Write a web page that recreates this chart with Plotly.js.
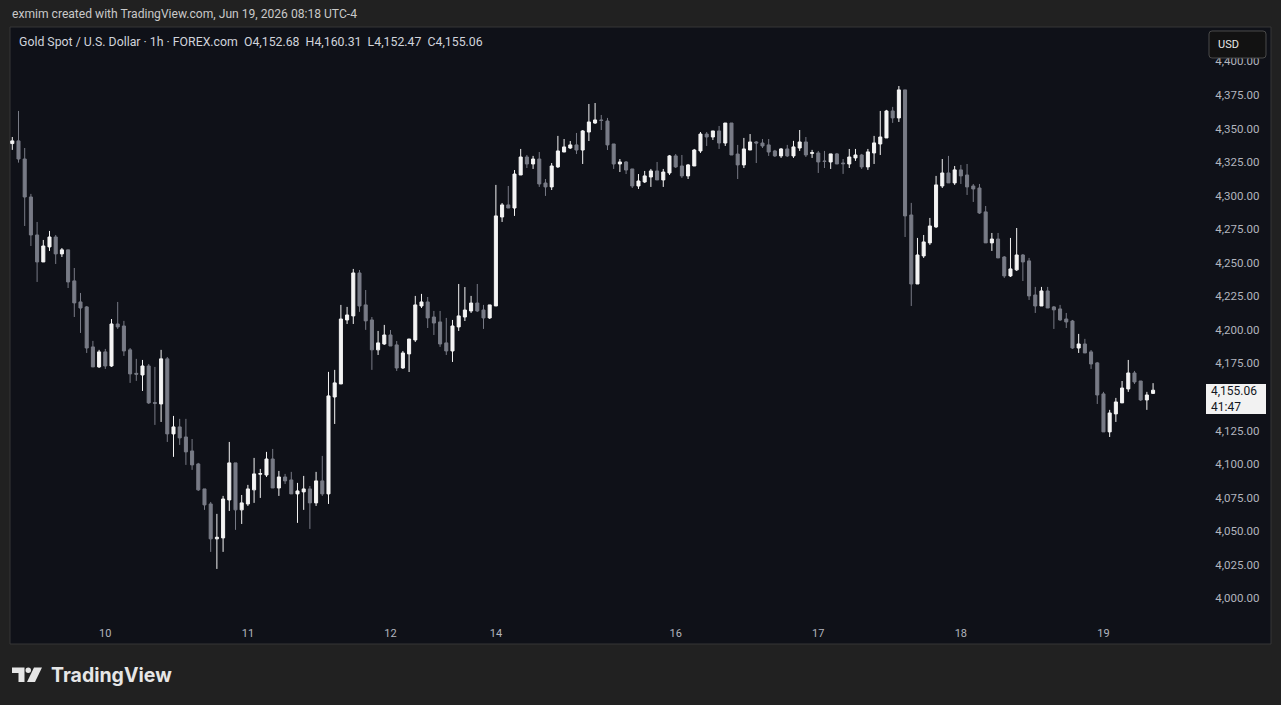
<!DOCTYPE html>
<html>
<head>
<meta charset="utf-8">
<script src="https://cdn.plot.ly/plotly-3.0.1.min.js"></script>
<style>
  html, body { margin: 0; padding: 0; background: #212121; overflow: hidden; }
  #chart { width: 1281px; height: 705px; }
</style>
</head>
<body>
<div id="chart"></div>
<script>
// ---------- DATA ----------
// Session structure (hourly bars, 17:00 maintenance break, weekend gap)
const sessionDays = ['Jun 9', 'Jun 10', 'Jun 11', 'Jun 12', 'Jun 14', 'Jun 15', 'Jun 16', 'Jun 17', 'Jun 18', 'Jun 19'];
const sessionFirstHour = [8, 0, 0, 0, 18, 0, 0, 0, 0, 0];
const sessionLastHour  = [23, 23, 23, 16, 23, 23, 23, 23, 23, 8];

const opens = [
4338.8,4340.8,4327.3,4299.0,4270.7,4250.6,4261.8,4269.2,4256.6,4259.6,
4236.5,4220.8,4217.1,4187.3,4172.4,4183.6,4173.1,4204.4,4202.9,4185.1,
4167.6,4166.4,4173.1,4145.8,4144.8,4178.4,4122.5,4127.7,4120.2,4109.8,
4100.1,4081.5,4070.3,4044.3,4045.0,4073.3,4100.9,4065.9,4070.3,4080.8,
4092.5,4091.9,4103.8,4082.2,4090.4,4088.2,4077.8,4079.3,4081.5,4071.1,
4087.5,4077.8,4150.0,4159.7,4207.4,4210.4,4242.4,4218.6,4207.4,4185.1,
4189.5,4196.2,4188.8,4171.6,4182.1,4192.5,4217.8,4220.8,4209.6,4205.9,
4190.3,4184.3,4202.2,4209.6,4214.1,4220.0,4214.8,4208.9,4217.8,4284.1,
4293.1,4290.8,4315.4,4328.8,4323.6,4327.3,4309.4,4306.5,4321.4,4332.5,
4335.5,4337.8,4334.0,4347.4,4354.1,4356.4,4355.6,4338.5,4323.6,4325.1,
4319.9,4307.2,4310.2,4313.9,4318.4,4311.7,4316.9,4329.6,4322.1,4314.7,
4322.1,4333.3,4345.9,4343.7,4348.2,4339.2,4354.1,4331.0,4322.9,4334.0,
4340.0,4339.2,4337.8,4333.3,4329.6,4334.8,4329.6,4335.5,4340.0,4331.5,
4331.8,4325.8,4325.1,4331.1,4324.3,4323.6,4328.1,4330.3,4321.4,4331.8,
4338.5,4343.0,4363.1,4357.9,4378.8,4285.6,4234.2,4255.1,4264.8,4276.7,
4307.2,4316.9,4309.5,4319.2,4315.4,4307.2,4305.7,4287.9,4264.8,4267.7,
4254.3,4240.2,4244.7,4255.8,4251.4,4226.0,4217.8,4229.0,4217.1,4215.6,
4208.1,4206.6,4186.5,4189.5,4183.6,4175.4,4152.3,4124.0,4137.4,4145.6,
4156.0,4167.9,4161.9,4147.8,4152.68
];
const highs = [
4343.7,4363.1,4335.5,4301.3,4280.4,4267.0,4273.7,4270.7,4261.0,4259.6,
4246.1,4227.5,4217.8,4191.8,4185.1,4185.8,4208.1,4220.8,4206.7,4186.5,
4178.4,4177.6,4174.6,4172.4,4185.1,4179.8,4135.9,4133.7,4133.7,4118.7,
4100.9,4081.5,4071.8,4062.9,4076.3,4116.5,4100.9,4077.0,4084.5,4104.6,
4096.4,4109.1,4111.3,4094.9,4092.7,4094.2,4086.0,4091.2,4083.7,4094.2,
4106.1,4168.7,4170.2,4218.6,4217.1,4245.4,4244.6,4229.7,4209.6,4199.2,
4203.7,4199.9,4191.7,4184.3,4193.2,4225.3,4226.8,4224.5,4214.1,4214.1,
4208.9,4207.4,4234.2,4231.9,4225.3,4234.2,4218.6,4218.6,4308.0,4294.5,
4307.2,4319.1,4334.8,4330.3,4329.6,4332.5,4312.4,4324.3,4344.5,4342.2,
4340.7,4346.7,4348.9,4368.3,4369.0,4360.1,4357.9,4338.5,4327.3,4325.8,
4319.9,4316.1,4318.4,4319.9,4325.1,4319.9,4330.3,4331.0,4330.3,4323.6,
4334.8,4347.4,4347.4,4348.2,4351.9,4354.1,4354.1,4337.8,4343.0,4345.9,
4340.7,4342.2,4342.2,4334.1,4335.5,4337.8,4340.8,4348.9,4343.7,4334.1,
4333.3,4333.3,4331.1,4331.8,4327.3,4334.8,4334.8,4331.1,4334.8,4344.5,
4363.1,4363.9,4366.1,4381.7,4378.8,4294.6,4268.5,4270.7,4283.4,4314.7,
4327.3,4329.6,4322.1,4322.9,4323.6,4308.7,4308.7,4292.3,4272.2,4272.2,
4255.0,4268.5,4275.9,4256.5,4253.6,4232.0,4232.0,4232.0,4217.8,4218.6,
4212.6,4207.4,4197.0,4193.3,4185.0,4176.1,4153.8,4140.4,4149.3,4161.9,
4177.6,4169.4,4161.9,4153.8,4160.31
];
const lows = [
4334.1,4324.6,4277.4,4262.5,4235.7,4250.6,4258.8,4249.1,4254.3,4231.2,
4209.6,4197.7,4182.8,4172.4,4171.6,4170.9,4172.4,4200.7,4180.6,4160.5,
4162.0,4154.5,4144.8,4129.2,4131.4,4116.5,4105.4,4114.3,4099.4,4095.7,
4080.0,4065.9,4034.6,4021.9,4034.6,4065.1,4051.0,4055.4,4068.8,4071.1,
4074.8,4090.4,4082.2,4076.3,4085.2,4077.8,4056.2,4065.9,4051.7,4068.8,
4076.3,4070.3,4129.9,4159.7,4204.4,4204.4,4213.4,4200.0,4170.2,4181.3,
4188.8,4188.0,4169.4,4170.9,4168.6,4191.0,4216.3,4201.4,4196.2,4187.3,
4181.3,4176.1,4199.2,4206.6,4212.6,4213.3,4200.7,4208.1,4217.8,4280.4,
4290.8,4284.9,4315.4,4320.6,4319.9,4306.5,4299.8,4304.2,4320.6,4332.5,
4334.8,4331.0,4323.6,4340.7,4353.4,4348.9,4334.0,4319.9,4317.6,4316.1,
4305.7,4305.0,4309.4,4306.5,4311.7,4306.5,4315.4,4320.6,4313.2,4312.4,
4322.1,4331.8,4337.0,4341.5,4334.8,4337.0,4330.3,4312.4,4320.6,4334.0,
4324.3,4335.5,4329.6,4328.8,4328.1,4328.8,4328.1,4333.3,4328.8,4328.1,
4316.9,4320.6,4319.9,4323.6,4316.2,4320.6,4325.9,4319.9,4319.2,4323.6,
4330.3,4343.0,4354.2,4354.9,4269.2,4217.8,4234.2,4253.6,4263.3,4275.9,
4305.7,4309.5,4308.0,4308.7,4300.5,4295.3,4286.4,4264.8,4258.8,4253.6,
4238.7,4239.4,4243.9,4236.4,4222.3,4212.6,4217.8,4216.3,4200.7,4206.7,
4201.4,4185.8,4182.8,4182.8,4170.9,4144.8,4124.0,4120.2,4131.4,4145.6,
4153.8,4159.7,4147.0,4140.4,4152.47
];
const closes = [
4340.8,4327.3,4299.0,4270.7,4250.6,4262.5,4269.2,4256.6,4259.6,4235.7,
4220.1,4216.3,4186.5,4172.4,4183.6,4173.1,4204.4,4202.2,4184.3,4167.2,
4167.0,4173.1,4145.6,4145.3,4178.4,4122.5,4127.7,4119.5,4109.1,4099.4,
4080.8,4069.6,4044.3,4045.5,4074.0,4100.9,4065.9,4071.1,4081.5,4092.7,
4092.9,4103.8,4082.2,4090.4,4087.5,4077.8,4080.0,4081.5,4071.1,4087.5,
4077.8,4150.8,4160.5,4208.1,4211.1,4242.4,4217.8,4206.7,4185.1,4190.3,
4196.2,4188.0,4171.6,4182.8,4193.2,4218.6,4220.8,4208.9,4205.1,4189.5,
4184.3,4202.9,4210.4,4214.8,4220.0,4214.1,4208.9,4218.6,4284.9,4293.1,
4290.8,4316.1,4328.8,4323.6,4327.3,4308.7,4306.5,4322.1,4333.3,4336.3,
4337.8,4334.0,4348.2,4354.9,4356.4,4356.0,4337.8,4323.6,4325.1,4319.1,
4307.2,4310.9,4314.7,4318.4,4311.7,4317.6,4329.6,4321.4,4314.7,4322.9,
4334.0,4345.9,4343.7,4348.2,4339.2,4354.1,4330.3,4322.9,4334.8,4340.0,
4339.2,4337.0,4332.5,4329.6,4334.8,4329.6,4336.3,4340.0,4330.3,4332.0,
4325.1,4325.5,4331.1,4323.6,4323.8,4328.8,4330.3,4321.4,4332.6,4339.3,
4343.7,4363.1,4357.9,4378.8,4284.9,4234.2,4255.8,4265.5,4277.4,4308.0,
4316.9,4309.5,4319.2,4314.7,4306.5,4305.0,4287.1,4264.8,4267.7,4253.6,
4240.2,4245.4,4255.8,4250.6,4225.3,4217.8,4229.0,4216.3,4214.9,4207.4,
4205.9,4186.5,4189.5,4182.8,4174.6,4151.5,4124.0,4138.1,4146.3,4156.7,
4167.9,4161.2,4147.8,4151.5,4155.06
];

// 4,150.00 is hidden behind the last-price label in the reference, so it is not listed
const priceTicks = [4000,4025,4050,4075,4100,4125,4175,4200,4225,4250,4275,4300,4325,4350,4375,4400];
const dayTickTimes = ['Jun 10 00:00','Jun 11 00:00','Jun 12 00:00','Jun 14 18:00','Jun 16 00:00','Jun 17 00:00','Jun 18 00:00','Jun 19 00:00'];
const dayTickLabels = ['10','11','12','14','16','17','18','19'];

const headerText = 'exmim created with TradingView.com, Jun 19, 2026 08:18 UTC-4';
const legendText = 'Gold Spot / U.S. Dollar · 1h · FOREX.com&nbsp;&nbsp;O4,152.68&nbsp;&nbsp;H4,160.31&nbsp;&nbsp;L4,152.47&nbsp;&nbsp;C4,155.06';
const lastPriceText = '4,155.06';
const countdownText = '41:47';

// ---------- build categories ----------
const times = [];
sessionDays.forEach((d, i) => {
  for (let h = sessionFirstHour[i]; h <= sessionLastHour[i]; h++) {
    if (h === 17) continue;
    times.push(d + ' ' + String(h).padStart(2, '0') + ':00');
  }
});

// ---------- layout geometry ----------
const W = 1281, H = 705;
const M = { l: 10, r: 81, t: 28, b: 95 };
const PW = W - M.l - M.r, PH = H - M.t - M.b;
const px = x => (x - M.l) / PW;
const py = y => (H - M.b - y) / PH;
const pt = (x, y) => px(x).toFixed(5) + ',' + py(y).toFixed(5);

const UP = '#f4f4f4', DOWN = '#787b86';
const PANEL = '#0f1118';
const AXIS_TXT = '#b2b5be';
const FONT = 'Roboto, "Liberation Sans", sans-serif';

const trace = {
  type: 'candlestick',
  x: times, open: opens, high: highs, low: lows, close: closes,
  increasing: { line: { color: UP, width: 1 }, fillcolor: UP },
  decreasing: { line: { color: DOWN, width: 1 }, fillcolor: DOWN },
  whiskerwidth: 0,
  hoverinfo: 'skip'
};

const shapes = [
  // dark chart panel
  { type: 'rect', xref: 'paper', yref: 'paper', layer: 'below',
    x0: px(10), x1: px(1271), y0: py(644), y1: py(27),
    fillcolor: PANEL, line: { color: '#363636', width: 1 } },
  // USD box
  { type: 'path', xref: 'paper', yref: 'paper', layer: 'above',
    path: 'M' + pt(1212, 31) + ' L' + pt(1263, 31) + ' Q' + pt(1266, 31) + ' ' + pt(1266, 34) +
          ' L' + pt(1266, 55) + ' Q' + pt(1266, 58) + ' ' + pt(1263, 58) +
          ' L' + pt(1212, 58) + ' Q' + pt(1209, 58) + ' ' + pt(1209, 55) +
          ' L' + pt(1209, 34) + ' Q' + pt(1209, 31) + ' ' + pt(1212, 31) + ' Z',
    fillcolor: '#121212', line: { color: '#4a4a4a', width: 1 } },
  // last price label box
  { type: 'rect', xref: 'paper', yref: 'paper', layer: 'above',
    x0: px(1206), x1: px(1266), y0: py(414), y1: py(384),
    fillcolor: '#f2f2f2', line: { width: 0 } },
  // TradingView logo: T part
  { type: 'path', xref: 'paper', yref: 'paper', layer: 'above',
    path: 'M' + pt(12, 667.5) + ' L' + pt(24.5, 667.5) + ' L' + pt(24.5, 682) + ' L' + pt(18.5, 682) +
          ' L' + pt(18.5, 673) + ' L' + pt(12, 673) + ' Z',
    fillcolor: '#e6e6e6', line: { width: 0 } },
  // logo dot
  { type: 'circle', xref: 'paper', yref: 'paper', layer: 'above',
    x0: px(25.5), x1: px(31), y0: py(673), y1: py(667.5),
    fillcolor: '#e6e6e6', line: { width: 0 } },
  // logo slash
  { type: 'path', xref: 'paper', yref: 'paper', layer: 'above',
    path: 'M' + pt(34, 667.5) + ' L' + pt(42, 667.5) + ' L' + pt(35, 682) + ' L' + pt(27, 682) + ' Z',
    fillcolor: '#e6e6e6', line: { width: 0 } }
];

const annotations = [
  { xref: 'paper', yref: 'paper', x: px(10), y: py(14), xanchor: 'left', yanchor: 'middle',
    text: headerText, showarrow: false, font: { family: FONT, size: 12.1, color: '#c9c9c9' } },
  { xref: 'paper', yref: 'paper', x: px(17), y: py(41.5), xanchor: 'left', yanchor: 'middle',
    text: legendText, showarrow: false, font: { family: FONT, size: 12.3, color: '#d1d4dc' } },
  { xref: 'paper', yref: 'paper', x: px(1216), y: py(44.5), xanchor: 'left', yanchor: 'middle',
    text: 'USD', showarrow: false, font: { family: FONT, size: 11, color: '#e8e8e8' } },
  { xref: 'paper', yref: 'paper', x: px(1209), y: py(399), xanchor: 'left', yanchor: 'middle',
    text: lastPriceText + '<br>' + countdownText, align: 'left', showarrow: false,
    font: { family: FONT, size: 12, color: '#131722' } },
  { xref: 'paper', yref: 'paper', x: px(49), y: py(675), xanchor: 'left', yanchor: 'middle',
    text: '<b>TradingView</b>', showarrow: false, font: { family: 'Inter, Roboto, sans-serif', size: 19.5, color: '#e6e6e6' } }
];

const layout = {
  width: W, height: H,
  margin: M,
  paper_bgcolor: '#212121',
  plot_bgcolor: PANEL,
  showlegend: false,
  boxgap: 0.3,
  dragmode: false,
  xaxis: {
    type: 'category',
    range: [-0.371, 191.57],
    rangeslider: { visible: false },
    tickmode: 'array', tickvals: dayTickTimes, ticktext: dayTickLabels,
    ticks: 'outside', ticklen: 13, tickcolor: 'rgba(0,0,0,0)',
    tickfont: { family: FONT, size: 11, color: AXIS_TXT },
    showgrid: false, zeroline: false, showline: false, fixedrange: true
  },
  yaxis: {
    side: 'right',
    range: [3991.3, 4424.9],
    tickmode: 'array', tickvals: priceTicks,
    tickformat: ',.2f',
    ticks: 'outside', ticklen: 12, tickcolor: 'rgba(0,0,0,0)',
    tickfont: { family: FONT, size: 11.5, color: AXIS_TXT },
    showgrid: false, zeroline: false, showline: false, fixedrange: true
  },
  shapes: shapes,
  annotations: annotations
};

Plotly.newPlot('chart', [trace], layout, { displayModeBar: false, staticPlot: true });
</script>
</body>
</html>
